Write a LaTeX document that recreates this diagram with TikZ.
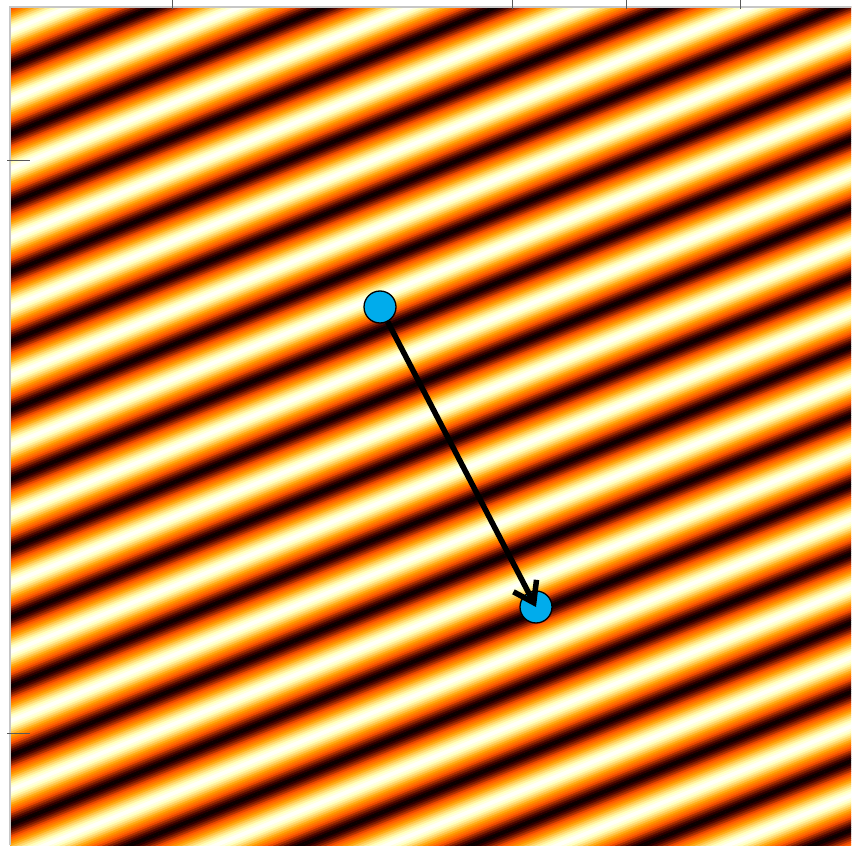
\documentclass[tikz,border=0pt]{standalone}
\usepackage{xcolor}
\usetikzlibrary{arrows.meta}

\definecolor{spotblue}{RGB}{0,172,236}
\def\period{64}

\begin{document}
\begin{tikzpicture}[
        x=1pt, y=1pt,
        % Define Styles
        spot/.style={circle, draw=black, line width=1.3pt, fill=spotblue, minimum size=32pt, inner sep=0pt},
        hop/.style={-{Straight Barb[length=19pt, width=26pt]}, line width=5.5pt, draw=black},
        axistick/.style={draw=black!65, line width=0.9pt},
        axisline/.style={draw=black!22, line width=1.5pt}
    ]

    % --- CANVAS ---
    \useasboundingbox[fill=white] (0,0) rectangle (857,847);

    % --- STRIPE PATTERN (bands along the wave vector) ---
    \begin{scope}
        \clip (10,2) rectangle (851,840);
        \begin{scope}[shift={(390,521)}, rotate=22]
            \foreach \j in {0,...,31} {
                \pgfmathsetmacro\tv{(\j+0.5)/32}
                \pgfmathsetmacro\fv{0.5*(1-abs(1-2*\tv)) + 0.5*(1-cos(360*\tv))/2}
                \pgfmathsetmacro\rv{min(1,3*\fv)}
                \pgfmathsetmacro\gv{max(0,min(1,1.25*(\fv-0.08)))}
                \pgfmathsetmacro\bv{max(0,min(1,2.4*(\fv-0.58)))}
                \definecolor{band}{rgb}{\rv,\gv,\bv}
                \foreach \k in {-12,...,8}
                    \fill[band] (-1300, \k*\period + \j*\period/32) rectangle +(2600, \period/32 + 0.5);
            }
        \end{scope}
    \end{scope}

    % --- AXES ---
    \draw[axisline] (10,2) -- (10,840) -- (851,840);
    \foreach \xt in {172, 512, 626, 740}
        \draw[axistick] (\xt,847) -- (\xt,838);
    \foreach \yt in {160, 733}
        \draw[axistick] (7,847-\yt) -- (30,847-\yt);

    % --- POINTS AND HOP ---
    \node[spot] (src) at (380,540) {};
    \node[spot] (dst) at (536,240) {};
    \draw[hop] (src) -- (dst.center);

\end{tikzpicture}
\end{document}
